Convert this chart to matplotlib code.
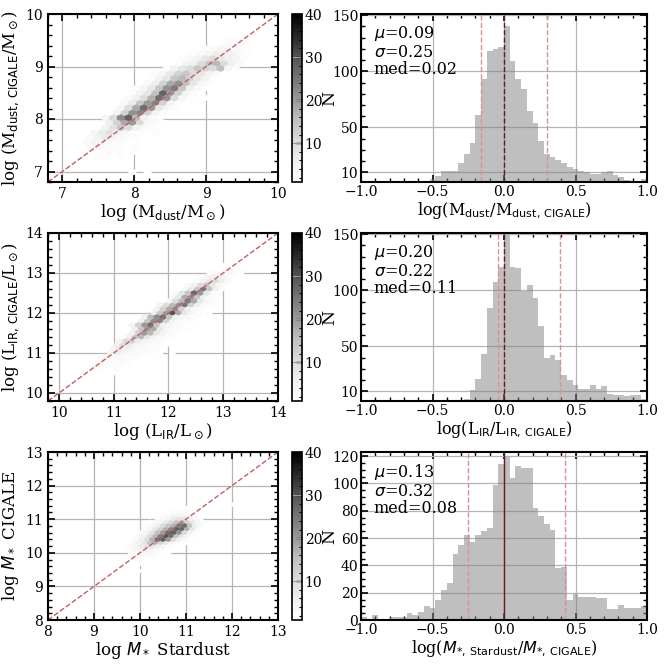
import numpy as np
import matplotlib
matplotlib.use('Agg')
import matplotlib.pyplot as plt
from matplotlib.ticker import MultipleLocator, FixedLocator

plt.rcParams['font.family'] = ['DejaVu Serif']
plt.rcParams['mathtext.fontset'] = 'dejavusans'
plt.rcParams['axes.linewidth'] = 1.5
plt.rcParams['xtick.direction'] = 'in'
plt.rcParams['ytick.direction'] = 'in'
plt.rcParams['xtick.top'] = True
plt.rcParams['ytick.right'] = True

# ---- hexbin counts, one hex row at a time: row y, x of first cell, counts along the row ----
# dust mass
md_row_y = [6.99, 7.08, 7.18, 7.27, 7.36, 7.46, 7.55, 7.65, 7.74, 7.84, 7.93, 8.02, 8.12,
            8.21, 8.31, 8.40, 8.49, 8.59, 8.68, 8.78, 8.87, 8.96, 9.06, 9.15, 9.25, 9.34,
            9.44, 9.53, 9.62]
md_row_x0 = [8.0, 7.6, 7.5, 7.45, 7.5, 7.35, 7.35, 7.4, 7.45, 7.55, 7.6, 7.65, 7.75,
             7.85, 7.9, 7.95, 8.0, 8.05, 8.15, 8.2, 8.3, 8.45, 8.6, 8.7, 8.85, 9.0,
             9.1, 9.2, 9.3]
md_row_n = [[1, 0, 1],
            [1, 0, 0, 1, 0, 0, 1],
            [1, 1, 0, 1, 0, 0, 0, 1],
            [2, 2, 1, 2, 1, 0, 1, 0, 1],
            [2, 3, 2, 1, 2, 1, 0, 1],
            [3, 4, 3, 2, 2, 1, 2, 0, 1],
            [3, 5, 4, 3, 2, 2, 1, 1],
            [3, 5, 7, 5, 3, 2, 2, 1, 0, 1],
            [4, 7, 9, 6, 4, 2, 2, 1, 2],
            [5, 9, 14, 10, 5, 3, 2, 1],
            [6, 12, 18, 20, 10, 4, 2, 1, 1],
            [4, 10, 22, 28, 16, 6, 3, 2],
            [5, 12, 21, 23, 12, 5, 2, 1, 1],
            [4, 10, 18, 26, 20, 8, 4, 2, 1],
            [3, 7, 14, 20, 23, 12, 5, 2, 1, 1],
            [3, 6, 10, 17, 26, 21, 10, 4, 2, 0, 1],
            [2, 5, 8, 15, 28, 20, 12, 5, 2, 1],
            [2, 4, 8, 14, 21, 24, 14, 6, 3, 1],
            [3, 6, 12, 18, 21, 15, 8, 4, 2],
            [2, 5, 8, 14, 16, 12, 8, 5, 2, 1],
            [2, 4, 8, 12, 14, 10, 8, 5, 3],
            [2, 5, 8, 10, 14, 12, 10, 15, 4, 2],
            [2, 4, 6, 10, 14, 16, 10, 6, 3],
            [2, 3, 5, 8, 10, 8, 6, 4, 2],
            [2, 3, 4, 6, 6, 5, 3, 2],
            [2, 3, 4, 4, 3, 2],
            [1, 2, 3, 3, 2, 1],
            [1, 2, 2, 2, 1],
            [1, 1, 1]]

# IR luminosity
lir_row_y = [10.2, 10.3, 10.4, 10.5, 10.6, 10.7, 10.8, 10.9, 11.0, 11.1, 11.2, 11.3, 11.4,
             11.5, 11.6, 11.7, 11.8, 11.9, 12.0, 12.1, 12.2, 12.3, 12.4, 12.5, 12.6, 12.7,
             12.8, 12.9, 13.0, 13.1, 13.2]
lir_row_x0 = [10.2, 10.6, 10.4, 10.45, 10.6, 10.7, 10.7, 10.8, 10.9, 11.0, 11.1, 11.15, 11.25,
              11.3, 11.4, 11.35, 11.5, 11.6, 11.75, 11.8, 11.9, 12.0, 12.1, 12.15, 12.25, 12.4,
              12.5, 12.6, 12.75, 12.9, 13.0]
lir_row_n = [[1],
             [1, 0, 1],
             [1, 0, 1, 0, 1, 1],
             [2, 0, 1, 1, 0, 1],
             [2, 2, 1, 1, 2, 1],
             [2, 3, 2, 1, 2, 1, 0, 1],
             [2, 3, 3, 2, 3, 2, 1, 1, 0, 1],
             [3, 4, 3, 3, 2, 2, 2, 1, 1],
             [4, 6, 4, 3, 3, 2, 2, 1, 1, 0, 1],
             [5, 8, 6, 4, 3, 3, 2, 2, 1],
             [6, 10, 7, 5, 4, 3, 2, 1, 1],
             [5, 10, 12, 7, 5, 3, 3, 2, 1, 0, 1],
             [6, 14, 16, 8, 5, 3, 2, 2, 1],
             [5, 12, 20, 16, 8, 5, 3, 2, 1, 1],
             [6, 14, 20, 18, 8, 4, 3, 2, 2, 0, 1],
             [5, 12, 20, 26, 14, 6, 4, 3, 2, 1],
             [6, 14, 22, 23, 12, 5, 3, 2, 2, 1],
             [6, 16, 22, 26, 14, 6, 4, 3, 1],
             [6, 14, 20, 30, 18, 8, 4, 2, 1, 1],
             [5, 12, 18, 21, 12, 6, 3, 2, 1],
             [5, 10, 16, 21, 25, 12, 6, 3, 2],
             [4, 10, 16, 24, 18, 8, 4, 2],
             [4, 8, 18, 21, 14, 6, 3, 1],
             [3, 8, 14, 27, 20, 8, 3, 2],
             [3, 7, 14, 25, 14, 6, 2],
             [3, 6, 10, 14, 8, 4, 2],
             [2, 5, 8, 10, 6, 3],
             [2, 4, 6, 6, 4, 2],
             [2, 3, 4, 4, 2, 1],
             [1, 2, 3, 2, 2, 1, 1],
             [1, 2, 1, 1]]

# stellar mass
ms_row_y = [9.35, 9.46, 9.56, 9.67, 9.77, 9.87, 9.98, 10.08, 10.19, 10.29, 10.40, 10.50,
            10.60, 10.71, 10.81, 10.92, 11.02, 11.12, 11.23, 11.33, 11.44]
ms_row_x0 = [9.8, 9.6, 9.5, 9.6, 9.6, 9.7, 9.75, 9.8, 9.85, 9.9, 9.95, 10.0,
             10.05, 10.1, 10.15, 10.2, 10.35, 10.5, 10.65, 10.9, 11.6]
ms_row_n = [[1],
            [1, 0, 0, 1, 0, 0, 0, 1],
            [1, 0, 1, 0, 1, 0, 1],
            [1, 1, 0, 1, 1, 0, 1],
            [2, 2, 1, 2, 1, 1, 0, 1],
            [2, 2, 3, 2, 2, 1, 1],
            [2, 3, 4, 4, 3, 2, 1, 1],
            [2, 4, 5, 6, 5, 3, 2, 1, 1],
            [3, 5, 7, 9, 8, 6, 4, 2, 1, 1],
            [3, 5, 8, 14, 17, 12, 8, 4, 2, 1, 1],
            [3, 6, 10, 17, 26, 28, 20, 10, 5, 3, 1, 1],
            [3, 5, 10, 16, 24, 30, 26, 14, 8, 4, 2, 1],
            [3, 5, 9, 15, 20, 28, 28, 21, 10, 5, 2, 1],
            [2, 4, 8, 12, 17, 23, 28, 27, 17, 8, 3, 1],
            [2, 3, 6, 10, 14, 17, 24, 26, 14, 6, 3],
            [1, 3, 4, 7, 10, 14, 17, 12, 8, 4, 2],
            [2, 3, 5, 7, 8, 8, 5, 3, 2],
            [1, 2, 3, 4, 4, 3, 2, 1],
            [1, 2, 2, 3, 2, 1, 1, 1],
            [1, 1, 1, 1, 0, 1],
            [1, 0, 1, 0, 1]]

# ---- histogram counts, 50 bins of 0.04 between -1 and 1 ----
bin_edges = np.linspace(-1, 1, 51)
h_dust = [0, 0, 0, 0, 0, 0, 0, 0, 0, 0, 0, 0, 4, 7, 11, 11, 11, 18, 26, 36,
          61, 93, 118, 120, 122, 140, 109, 93, 84, 65, 54, 38, 26, 24, 21, 18, 15, 13, 11, 10,
          9, 9, 10, 11, 8, 6, 3, 2, 2, 4]
h_lir = [0, 0, 0, 0, 0, 0, 0, 0, 0, 0, 0, 0, 0, 0, 0, 0, 0, 0, 3, 11,
         21, 43, 84, 107, 121, 149, 121, 120, 99, 105, 93, 68, 40, 42, 38, 25, 20, 16, 12, 12,
         16, 12, 15, 8, 7, 7, 6, 7, 7, 3]
h_mstar = [2, 1, 4, 1, 1, 2, 2, 2, 5, 4, 6, 10, 9, 15, 22, 27, 48, 55, 62, 57,
           62, 65, 67, 99, 114, 119, 104, 113, 111, 111, 82, 76, 70, 66, 38, 39, 15, 19, 17, 17,
           17, 16, 16, 8, 8, 11, 9, 9, 9, 10]

stats_text = [r'$\mu$=0.09' + '\n' + r'$\sigma$=0.25' + '\nmed=0.02',
              r'$\mu$=0.20' + '\n' + r'$\sigma$=0.22' + '\nmed=0.11',
              r'$\mu$=0.13' + '\n' + r'$\sigma$=0.32' + '\nmed=0.08']
side_lines = [(-0.16, 0.30), (-0.04, 0.39), (-0.25, 0.43)]

xlabels_left = [r'log (M$_{\rm dust}$/M$_\odot$)', r'log (L$_{\rm IR}$/L$_\odot$)',
                r'log $M_*$ Stardust']
ylabels_left = [r'log (M$_{\rm dust,\,CIGALE}$/M$_\odot$)', r'log (L$_{\rm IR,\,CIGALE}$/L$_\odot$)',
                r'log $M_*$ CIGALE']
xlabels_right = [r'log(M$_{\rm dust}$/M$_{\rm dust,\,CIGALE}$)', r'log(L$_{\rm IR}$/L$_{\rm IR,\,CIGALE}$)',
                 r'log($M_{*,\,\rm Stardust}$/$M_{*,\,\rm CIGALE}$)']

lims = [(6.8, 10), (9.8, 14), (8, 13)]
gridsizes = [30, 37, 43]
hex_rows = [(md_row_y, md_row_x0, md_row_n), (lir_row_y, lir_row_x0, lir_row_n),
            (ms_row_y, ms_row_x0, ms_row_n)]
hist_data = [h_dust, h_lir, h_mstar]


def row_cells(row_y, row_x0, row_n, step):
    xs, ys, ns = [], [], []
    for y, x0, counts in zip(row_y, row_x0, row_n):
        for k, c in enumerate(counts):
            if c > 0:
                xs.append(x0 + k * step)
                ys.append(y)
                ns.append(c)
    return xs, ys, ns


fig = plt.figure(figsize=(6.64, 6.64), dpi=100)
W = 664.0
rows_top = [14, 233, 452]
row_h = 168

grid_kw = dict(color='#b5b5b5', lw=0.9)

for r in range(3):
    top = rows_top[r]
    bottom = 1 - (top + row_h) / W
    h = row_h / W
    ax = fig.add_axes([48 / W, bottom, 230 / W, h])
    cax = fig.add_axes([292 / W, bottom, 10 / W, h])
    axh = fig.add_axes([361 / W, bottom, 286 / W, h])

    lo, hi = lims[r]
    step = (hi - lo) / gridsizes[r]
    hx, hy, hn = row_cells(*hex_rows[r], step)
    ax.grid(True, **grid_kw)
    ax.set_axisbelow(True)
    hb = ax.hexbin(hx, hy, C=hn, reduce_C_function=np.max, gridsize=gridsizes[r],
                   extent=(lo, hi, lo, hi), cmap='Greys', vmin=1, vmax=40,
                   linewidths=0.2, edgecolors='face')
    ax.plot([lo, hi], [lo, hi], ls='--', color='#c0605f', lw=1.0)
    ax.set_xlim(lo, hi)
    ax.set_ylim(lo, hi)
    ax.xaxis.set_major_locator(MultipleLocator(1))
    ax.yaxis.set_major_locator(MultipleLocator(1))
    ax.xaxis.set_minor_locator(MultipleLocator(0.2))
    ax.yaxis.set_minor_locator(MultipleLocator(0.2))
    ax.tick_params(which='major', length=5, width=1.2, labelsize=10)
    ax.tick_params(which='minor', length=3, width=1.0)
    ax.set_xlabel(xlabels_left[r], fontsize=12, labelpad=1)
    ax.set_ylabel(ylabels_left[r], fontsize=12, labelpad=3)

    cb = fig.colorbar(hb, cax=cax)
    cb.set_ticks([10, 20, 30, 40])
    cb.ax.yaxis.set_minor_locator(MultipleLocator(2))
    cb.ax.tick_params(which='major', length=4, width=1.0, labelsize=10, direction='in', pad=2)
    cb.ax.tick_params(which='minor', length=2, width=0.8, direction='in')
    cb.outline.set_linewidth(1.2)
    for v in [10, 20, 30]:
        cb.ax.axhline(v, color='#9a9a9a', lw=0.8)
    cb.set_label('N', fontsize=12.5, labelpad=-1)

    centers = (bin_edges[:-1] + bin_edges[1:]) / 2
    axh.grid(True, **grid_kw)
    axh.set_axisbelow(True)
    axh.hist(centers, bins=bin_edges, weights=hist_data[r], color='gray', alpha=0.5)
    l1, l2 = side_lines[r]
    axh.axvline(l1, color='#e08f8f', ls='--', lw=1.0)
    axh.axvline(l2, color='#e08f8f', ls='--', lw=1.0)
    if r < 2:
        axh.axvline(0.0, color='#6b1a1a', ls='--', lw=1.0)
        axh.set_ylim(1.5, 151)
        axh.yaxis.set_major_locator(FixedLocator([10, 50, 100, 150]))
        axh.yaxis.set_minor_locator(MultipleLocator(10))
    else:
        axh.axvline(0.0, color='#6b1a1a', ls='-', lw=1.0)
        axh.set_ylim(0, 123)
        axh.yaxis.set_major_locator(MultipleLocator(20))
        axh.yaxis.set_minor_locator(MultipleLocator(5))
    axh.set_xlim(-1, 1)
    axh.xaxis.set_major_locator(MultipleLocator(0.5))
    axh.xaxis.set_minor_locator(MultipleLocator(0.1))
    axh.tick_params(which='major', length=5, width=1.2, labelsize=10, pad=2)
    axh.tick_params(which='minor', length=3, width=1.0)
    axh.set_xlabel(xlabels_right[r], fontsize=11.5, labelpad=1)
    axh.text(0.045, 0.94, stats_text[r], transform=axh.transAxes, va='top', ha='left',
             fontsize=11.5, linespacing=1.05)

plt.savefig('out.png', dpi=100)
